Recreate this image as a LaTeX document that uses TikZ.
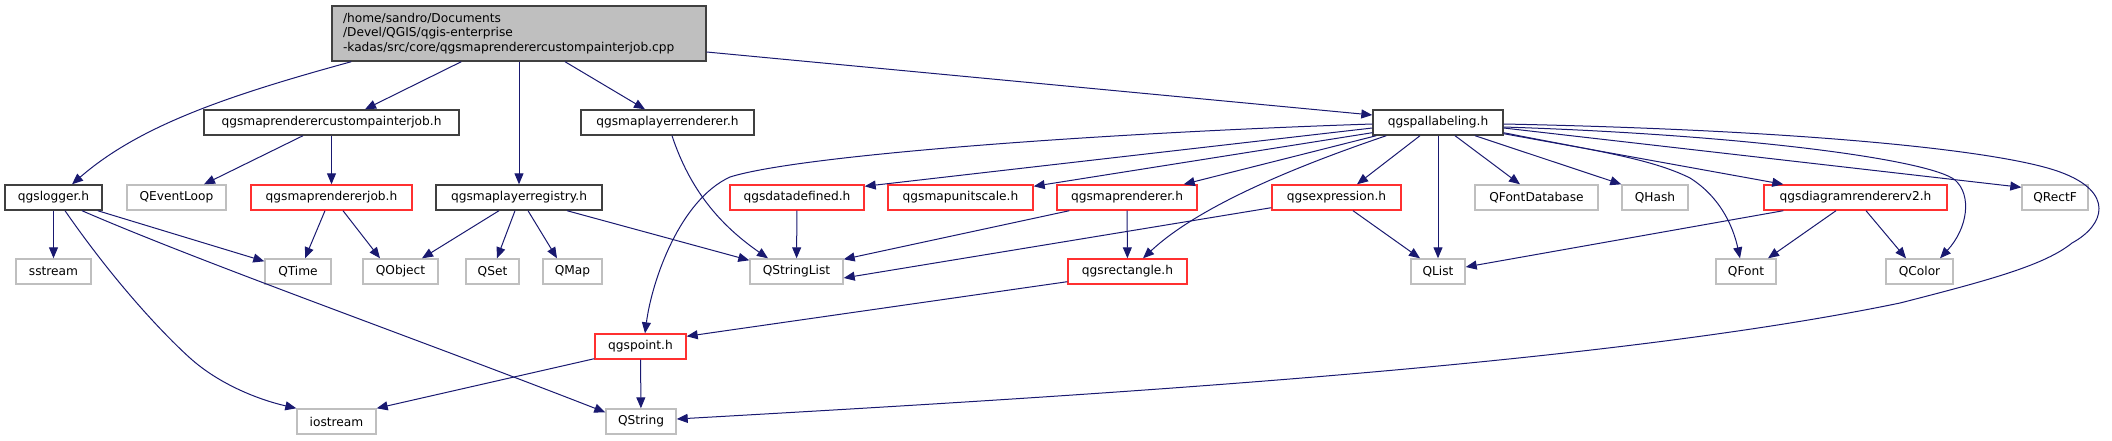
\documentclass[tikz,border=0pt]{standalone}
\usepackage{fontspec}
\setmainfont{DejaVu Sans}
\usetikzlibrary{arrows.meta}
\definecolor{edgeblue}{HTML}{191970}
\definecolor{docborder}{HTML}{404040}
\definecolor{hdrred}{HTML}{FF3030}
\definecolor{sysgray}{HTML}{BFBFBF}
\definecolor{mainfill}{HTML}{BFBFBF}

\begin{document}
\begin{tikzpicture}[
    x=1pt, y=-1pt,
    >={Triangle[length=11pt,width=9pt]},
    every node/.style={font=\fontsize{12.2}{14.5}\selectfont, inner sep=0pt, minimum height=25pt},
    mainbox/.style={
        draw=docborder,
        fill=mainfill,
        line width=1.4pt,
        align=left,
        text width=352pt,
        inner xsep=11pt,
        minimum height=55pt,
    },
    filebox/.style={draw=docborder, line width=1.4pt, fill=white},
    redbox/.style={draw=hdrred, line width=1.4pt, fill=white},
    sysbox/.style={draw=sysgray, line width=1.4pt, fill=white},
    arr/.style={->,line width=1pt,color=edgeblue},
]
\useasboundingbox (0,0) rectangle (2112,440);

% === Source file ===
\node[mainbox] (main) at (519,33.5) {/home/sandro/Documents\\/Devel/QGIS/qgis-enterprise\\-kadas/src/core/qgsmaprenderercustompainterjob.cpp};

% === Row 1 ===
\node[filebox,minimum width=255pt] (custom) at (331.5,122.5) {qgsmaprenderercustompainterjob.h};
\node[filebox,minimum width=173pt] (layerrend) at (667.5,122.5) {qgsmaplayerrenderer.h};
\node[filebox,minimum width=130pt] (pallab) at (1438,122.5) {qgspallabeling.h};

% === Row 2 ===
\node[filebox,minimum width=97pt] (logger) at (53.5,197.5) {qgslogger.h};
\node[sysbox,minimum width=99pt] (eventloop) at (176.5,197.5) {QEventLoop};
\node[redbox,minimum width=161pt] (rjob) at (331.5,197.5) {qgsmaprendererjob.h};
\node[filebox,minimum width=166pt] (registry) at (519,197.5) {qgsmaplayerregistry.h};
\node[redbox,minimum width=134pt] (datadef) at (797,197.5) {qgsdatadefined.h};
\node[redbox,minimum width=145pt] (unitscale) at (960.5,197.5) {qgsmapunitscale.h};
\node[redbox,minimum width=140pt] (maprend) at (1127,197.5) {qgsmaprenderer.h};
\node[redbox,minimum width=129pt] (expr) at (1336.5,197.5) {qgsexpression.h};
\node[sysbox,minimum width=123pt] (fontdb) at (1536.5,197.5) {QFontDatabase};
\node[sysbox,minimum width=66pt] (qhash) at (1655,197.5) {QHash};
\node[redbox,minimum width=183pt] (diagram) at (1855.5,197.5) {qgsdiagramrendererv2.h};
\node[sysbox,minimum width=66pt] (qrectf) at (2055,197.5) {QRectF};

% === Row 3 ===
\node[sysbox,minimum width=75pt] (sstream) at (53.5,271.5) {sstream};
\node[sysbox,minimum width=66pt] (qtime) at (298,271.5) {QTime};
\node[sysbox,minimum width=75pt] (qobject) at (400.5,271.5) {QObject};
\node[sysbox,minimum width=53pt] (qset) at (492.5,271.5) {QSet};
\node[sysbox,minimum width=59pt] (qmap) at (572.5,271.5) {QMap};
\node[sysbox,minimum width=93pt] (qstringlist) at (796.5,271.5) {QStringList};
\node[redbox,minimum width=119pt] (rect) at (1127.5,271.5) {qgsrectangle.h};
\node[sysbox,minimum width=54pt] (qlist) at (1438,271.5) {QList};
\node[sysbox,minimum width=60pt] (qfont) at (1746,271.5) {QFont};
\node[sysbox,minimum width=67pt] (qcolor) at (1919.5,271.5) {QColor};

% === Rows 4 and 5 ===
\node[redbox,minimum width=91pt] (qgspoint) at (640.5,346.5) {qgspoint.h};
\node[sysbox,minimum width=79pt] (iostream) at (336.5,421.5) {iostream};
\node[sysbox,minimum width=70pt] (qstring) at (641,421.5) {QString};

% === Arrows: source file ===
\draw[arr] ([xshift=20]main.south west) .. controls (230,95) and (140,125) .. ([xshift=18.5]logger.north);
\draw[arr] ([xshift=130]main.south west) -- ([xshift=33.5]custom.north);
\draw[arr] (main.south) -- (registry.north);
\draw[arr] ([xshift=46]main.south) -- ([xshift=-22.5]layerrend.north);
\draw[arr] ([yshift=-18.5]main.east) -- ([yshift=7.5]pallab.west);

% === Arrows: left part ===
\draw[arr] ([xshift=-28.5]custom.south) -- ([xshift=27.5]eventloop.north);
\draw[arr] (custom.south) -- (rjob.north);
\draw[arr] ([xshift=4.5]layerrend.south) .. controls (690,190) and (720,225) .. ([xshift=-28.5]qstringlist.north);
\draw[arr] (logger.south) -- (sstream.north);
\draw[arr] ([xshift=-5]logger.south east) -- ([yshift=-3]qtime.north west);
\draw[arr] ([xshift=28.5]logger.south) .. controls (200,262) and (420,340) .. ([yshift=-4]qstring.north west);
\draw[arr] ([xshift=11.5]logger.south) .. controls (120,290) and (170,340) .. (190,358)
    .. controls (220,385) and (260,400) .. (iostream.north west);
\draw[arr] ([xshift=-6.5]rjob.south) -- ([xshift=7]qtime.north);
\draw[arr] ([xshift=11.5]rjob.south) -- ([xshift=-20.5]qobject.north);
\draw[arr] ([xshift=-20]registry.south) -- ([xshift=21.5]qobject.north);
\draw[arr] ([xshift=-4]registry.south) -- ([xshift=4.5]qset.north);
\draw[arr] ([xshift=9]registry.south) -- ([xshift=-15.5]qmap.north);
\draw[arr] ([xshift=48]registry.south) -- ([yshift=-2]qstringlist.north west);
\draw[arr] ([yshift=1]qgspoint.south west) -- (iostream.north east);
\draw[arr] (qgspoint) -- (qstring);

% === Arrows: middle part ===
\draw[arr] (datadef) -- (qstringlist);
\draw[arr] ([xshift=13]maprend.south west) -- ([yshift=-1]qstringlist.north east);
\draw[arr] ([yshift=3]expr.south west) -- ([yshift=-6.5]qstringlist.east);
\draw[arr] (maprend) -- (rect);
\draw[arr] ([xshift=16.5]expr.south) -- ([xshift=-18]qlist.north);
\draw[arr] ([yshift=3]rect.south west) -- ([yshift=-3]qgspoint.north east);

% === Arrows: qgspallabeling.h ===
\draw[arr] ([yshift=-1.5]pallab.west) .. controls (1100,133) and (800,155) .. (730,177)
    .. controls (680,200) and (652,280) .. ([xshift=4.5]qgspoint.north);
\draw[arr] ([yshift=-5.5]pallab.west) -- ([yshift=-2]datadef.north east);
\draw[arr] ([yshift=3]pallab.south west) -- ([yshift=-2]unitscale.north east);
\draw[arr] ([xshift=4]pallab.south west) -- ([xshift=-14]maprend.north east);
\draw[arr] ([xshift=14]pallab.south west) .. controls (1300,165) and (1200,205) .. ([xshift=15.5]rect.north);
\draw[arr] ([xshift=-18]pallab.south) -- ([xshift=20.5]expr.north);
\draw[arr] (pallab) -- (qlist);
\draw[arr] ([xshift=17]pallab.south) -- ([xshift=-16.5]fontdb.north);
\draw[arr] ([xshift=37]pallab.south) -- (qhash.north west);
\draw[arr] ([yshift=3]pallab.south east) .. controls (1590,150) and (1650,158) .. (1690,178)
    .. controls (1725,200) and (1735,235) .. ([xshift=-6]qfont.north);
\draw[arr] ([yshift=2]pallab.south east) -- ([xshift=20]diagram.north west);
\draw[arr] ([yshift=-5.5]pallab.east) -- ([yshift=-3]qrectf.north west);
\draw[arr] ([yshift=-4.5]pallab.east) .. controls (1750,135) and (1930,160) .. (1955,180)
    .. controls (1972,195) and (1968,228) .. ([xshift=20.5]qcolor.north);
\draw[arr] ([yshift=-1.5]pallab.east) .. controls (1800,130) and (2000,150) .. (2060,172)
    .. controls (2115,192) and (2105,225) .. (2072,243)
    .. controls (2045,265) and (1990,280) .. (1900,303)
    .. controls (1600,365) and (1100,395) .. ([yshift=2.5]qstring.east);

% === Arrows: qgsdiagramrendererv2.h ===
\draw[arr] ([xshift=20]diagram.south west) -- ([yshift=4.5]qlist.east);
\draw[arr] ([xshift=-19.5]diagram.south) -- ([xshift=22]qfont.north);
\draw[arr] ([xshift=10.5]diagram.south) -- ([xshift=-13.5]qcolor.north);

\end{tikzpicture}
\end{document}
